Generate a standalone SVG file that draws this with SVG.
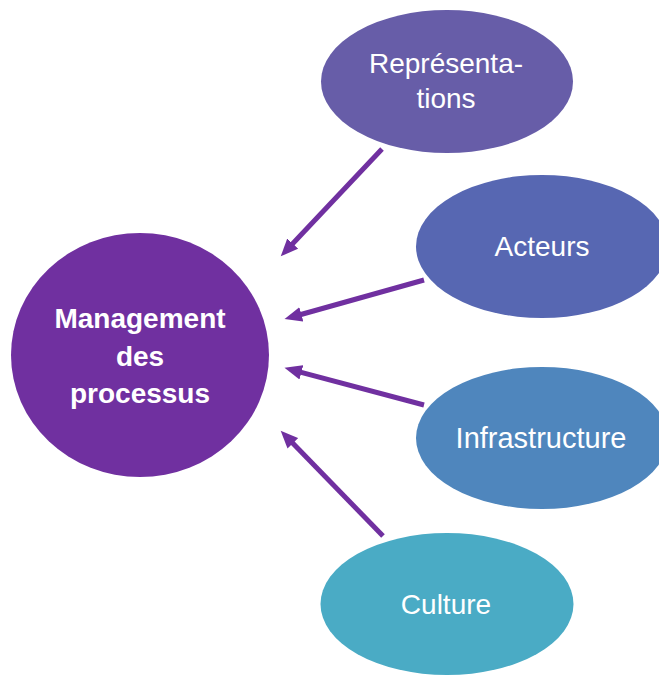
<svg xmlns="http://www.w3.org/2000/svg" width="659" height="675" viewBox="0 0 659 675">
<style>
.lbl{font-family:"Liberation Sans",Arial,sans-serif;font-size:28px;fill:#ffffff;text-anchor:middle}
.bold{font-weight:bold}
.conn{stroke:#7030A0;stroke-width:5;fill:none}
</style>
<defs>
<marker id="ah" markerUnits="userSpaceOnUse" markerWidth="18" markerHeight="16" refX="6" refY="8" orient="auto" viewBox="0 0 18 16">
<path d="M0,0.5 L17.5,8 L0,15.5 z" fill="#7030A0"/>
</marker>
</defs>
<rect width="659" height="675" fill="#ffffff"/>
<g id="connectors">
<line class="conn" x1="382" y1="149" x2="288.6" y2="248" marker-end="url(#ah)"/>
<line class="conn" x1="424" y1="280" x2="295.6" y2="316" marker-end="url(#ah)"/>
<line class="conn" x1="424" y1="405" x2="295.6" y2="370.8" marker-end="url(#ah)"/>
<line class="conn" x1="383" y1="536" x2="288.7" y2="439" marker-end="url(#ah)"/>
</g>
<g id="management">
<ellipse cx="140" cy="355" rx="129" ry="122" fill="#7030A0"/>
<text class="lbl bold" x="140" y="328">Management</text>
<text class="lbl bold" x="140" y="366">des</text>
<text class="lbl bold" x="140" y="403">processus</text>
</g>
<g id="representations">
<ellipse cx="447" cy="81.5" rx="126" ry="71.5" fill="#675DA8"/>
<text class="lbl" x="446" y="73">Représenta-</text>
<text class="lbl" x="446" y="108">tions</text>
</g>
<g id="acteurs">
<ellipse cx="542" cy="246.5" rx="126" ry="71.5" fill="#5767B2"/>
<text class="lbl" x="542" y="256">Acteurs</text>
</g>
<g id="infrastructure">
<ellipse cx="542" cy="438" rx="126" ry="71" fill="#4F86BD"/>
<text class="lbl" x="541" y="448" style="font-size:29px">Infrastructure</text>
</g>
<g id="culture">
<ellipse cx="447" cy="604" rx="126.5" ry="71" fill="#4AABC5"/>
<text class="lbl" x="446" y="614">Culture</text>
</g>
</svg>
